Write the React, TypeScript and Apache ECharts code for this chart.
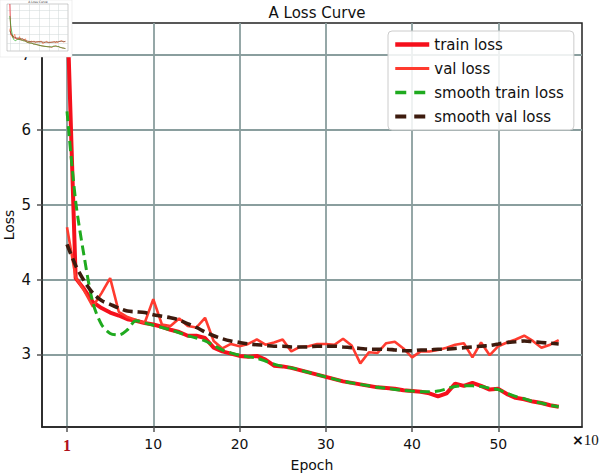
import React, { useEffect, useRef } from "react";
import * as echarts from "echarts";

const epochs = [0,1,2,3,4,5,6,7,8,9,10,11,12,13,14,15,16,17,18,19,20,21,22,23,24,25,26,27,28,29,30,31,32,33,34,35,36,37,38,39,40,41,42,43,44,45,46,47,48,49,50,51,52,53,54,55,56,57];

const trainLoss = [7.7,4.02,3.87,3.7,3.62,3.56,3.52,3.47,3.45,3.42,3.4,3.37,3.33,3.3,3.25,3.25,3.22,3.09,3.04,3.01,2.98,2.97,2.98,2.93,2.85,2.84,2.82,2.79,2.76,2.73,2.7,2.67,2.64,2.62,2.6,2.58,2.56,2.55,2.54,2.52,2.51,2.5,2.48,2.44,2.48,2.61,2.58,2.62,2.58,2.53,2.54,2.47,2.42,2.4,2.37,2.35,2.32,2.3];

const valLoss = [4.7,4.03,3.85,3.64,3.82,4.02,3.57,3.5,3.46,3.42,3.74,3.4,3.38,3.48,3.38,3.36,3.49,3.18,3.08,3.14,3.11,3.14,3.2,3.13,3.16,3.2,3.04,3.1,3.11,3.14,3.14,3.13,3.21,3.12,2.88,3.03,3.02,3.15,3.17,3.08,2.96,3.04,3.04,3.06,3.09,3.13,3.15,2.96,3.16,2.99,3.11,3.16,3.2,3.25,3.18,3.09,3.13,3.19];

const smoothTrain = [6.25,5.05,4.3,3.69,3.4,3.28,3.26,3.33,3.45,3.42,3.39,3.36,3.33,3.29,3.25,3.22,3.18,3.12,3.06,3.02,2.99,2.97,2.95,2.91,2.87,2.84,2.82,2.79,2.76,2.73,2.7,2.67,2.64,2.62,2.6,2.58,2.56,2.55,2.53,2.52,2.51,2.5,2.5,2.51,2.54,2.57,2.58,2.58,2.57,2.55,2.53,2.48,2.44,2.41,2.37,2.35,2.32,2.3];

const smoothVal = [4.47,4.19,3.98,3.82,3.72,3.67,3.62,3.58,3.57,3.56,3.53,3.51,3.49,3.46,3.41,3.36,3.3,3.25,3.21,3.18,3.16,3.14,3.13,3.12,3.11,3.11,3.1,3.1,3.1,3.11,3.11,3.11,3.1,3.09,3.08,3.07,3.07,3.07,3.06,3.05,3.05,3.06,3.06,3.07,3.07,3.08,3.09,3.1,3.11,3.12,3.14,3.16,3.17,3.18,3.17,3.16,3.15,3.14];

const xTicks = [0, 10, 20, 30, 40, 50];
const yTicks = [3, 4, 5, 6, 7];
const seriesNames = ["train loss", "val loss", "smooth train loss", "smooth val loss"];

const FONT = "DejaVu Sans";

function pairs(ys: number[]) {
  return ys.map((y, i) => [epochs[i], y]);
}

export default function App() {
  const ref = useRef<HTMLDivElement>(null);
  useEffect(() => {
    if (!ref.current) return;
    const chart = echarts.init(ref.current, undefined, { renderer: "svg" });
    const colors = ["#f5101c", "#ff3b2f", "#1faa1f", "#3d1b0e"];
    const widths = [4, 2.6, 3, 3.6];
    const mainSeries = [
      { name: seriesNames[0], data: pairs(trainLoss), lineStyle: { color: colors[0], width: widths[0] }, z: 3 },
      { name: seriesNames[1], data: pairs(valLoss), lineStyle: { color: colors[1], width: widths[1] }, z: 4 },
      { name: seriesNames[2], data: pairs(smoothTrain), lineStyle: { color: colors[2], width: widths[2], type: [10, 5] }, z: 5, smooth: 0.3 },
      { name: seriesNames[3], data: pairs(smoothVal), lineStyle: { color: colors[3], width: widths[3], type: [10, 5] }, z: 6, smooth: 0.3 },
    ].map((s, i) => ({
      type: "line",
      xAxisIndex: 0,
      yAxisIndex: 0,
      symbol: "none",
      showSymbol: false,
      itemStyle: { color: colors[i] },
      ...s,
    }));
    const miniSeries = [trainLoss, valLoss, smoothTrain, smoothVal].map((arr, i) => ({
      type: "line",
      name: "mini " + seriesNames[i],
      xAxisIndex: 1,
      yAxisIndex: 1,
      symbol: "none",
      silent: true,
      z: 70 + i,
      data: pairs(arr),
      lineStyle: { color: ["#f5101c", "#ff6a3a", "#1faa1f", "#6b3a1e"][i], width: 0.7 },
    }));

    chart.setOption({
      animation: false,
      backgroundColor: "#ffffff",
      title: {
        text: "A Loss Curve",
        left: 312,
        top: 0,
        textAlign: "center",
        textStyle: { fontFamily: FONT, fontSize: 15, fontWeight: "normal", color: "#111" },
      },
      legend: {
        data: seriesNames.map((n, i) => ({
          name: n,
          lineStyle: { width: widths[i] + 0.5, type: i >= 2 ? [11, 8] : "solid", color: colors[i] },
        })),
        orient: "vertical",
        left: 388,
        top: 31,
        padding: [6, 10, 6, 5],
        itemWidth: 34,
        itemHeight: 14,
        itemGap: 9,
        itemStyle: { opacity: 0 },
        borderColor: "#cccccc",
        borderWidth: 1,
        borderRadius: 4,
        backgroundColor: "rgba(255,255,255,0.85)",
        textStyle: { fontFamily: FONT, fontSize: 15, color: "#111" },
        z: 20,
      },
      grid: [
        { left: 42, right: 18, top: 23, bottom: 48, show: true, borderColor: "#222", borderWidth: 1.5, backgroundColor: "#fff", containLabel: false, outerBoundsMode: "none" },
        { left: 7, top: 4, width: 61, height: 47, show: true, borderColor: "#999", borderWidth: 0.5, backgroundColor: "#fff", z: 60, containLabel: false, outerBoundsMode: "none" },
      ],
      xAxis: [
        {
          type: "value",
          gridIndex: 0,
          min: -2.9,
          max: 59.7,
          name: "Epoch",
          nameLocation: "middle",
          nameGap: 31,
          nameTextStyle: { fontFamily: FONT, fontSize: 14, color: "#111" },
          axisLine: { show: true, onZero: false, lineStyle: { color: "#222", width: 1.5 } },
          axisTick: { show: true, customValues: xTicks, length: 5, lineStyle: { color: "#555", width: 1.5 } },
          axisLabel: {
            customValues: xTicks,
            fontFamily: FONT,
            fontSize: 14,
            color: "#111",
            margin: 10,
            formatter: (v: number) => (v === 0 ? "{r|1}" : String(v)),
            rich: { r: { color: "#b0101a", fontFamily: "Liberation Serif", fontSize: 16, fontWeight: "bold" } },
          },
          splitLine: { show: true, lineStyle: { color: "#8a9e9e", width: 1.8 } },
        },
        {
          type: "value",
          gridIndex: 1,
          min: -2.9,
          max: 59.7,
          z: 65,
          axisLine: { show: false, onZero: false },
          axisTick: { show: false, customValues: xTicks },
          axisLabel: { show: false, customValues: xTicks },
          splitLine: { show: true, lineStyle: { color: "#cfd6d6", width: 0.5 } },
        },
      ],
      yAxis: [
        {
          type: "value",
          gridIndex: 0,
          min: 2.03,
          max: 7.43,
          name: "Loss",
          nameLocation: "middle",
          nameGap: 26,
          nameMoveOverlap: false,
          nameTextStyle: { fontFamily: FONT, fontSize: 14, color: "#111" },
          axisLine: { show: true, onZero: false, lineStyle: { color: "#222", width: 1.5 } },
          axisTick: { show: true, customValues: yTicks, length: 5, lineStyle: { color: "#555", width: 1.5 } },
          axisLabel: { customValues: yTicks, fontFamily: FONT, fontSize: 15, color: "#111", margin: 11 },
          splitLine: { show: true, lineStyle: { color: "#8a9e9e", width: 1.8 } },
        },
        {
          type: "value",
          gridIndex: 1,
          min: 2.0,
          max: 7.7,
          z: 65,
          axisLine: { show: false, onZero: false },
          axisTick: { show: false, customValues: yTicks },
          axisLabel: { show: false, customValues: yTicks },
          splitLine: { show: true, lineStyle: { color: "#cfd6d6", width: 0.5 } },
        },
      ],
      graphic: [
        {
          type: "rect",
          shape: { x: 0, y: 0, width: 72, height: 57 },
          style: { fill: "#ffffff", stroke: "#dddddd", lineWidth: 0.5 },
          z: 50,
          silent: true,
        },
        {
          type: "text",
          x: 38,
          y: 0,
          z: 80,
          style: { text: "A Loss Curve", fontSize: 3, fontFamily: FONT, fill: "#333", align: "center" },
        },
        {
          type: "text",
          x: 572,
          y: 432,
          style: {
            text: "{a|×}{b|10}",
            rich: {
              a: { fontFamily: FONT, fontSize: 14, fontWeight: "bold", fill: "#111" },
              b: { fontFamily: "Liberation Serif", fontSize: 15, fill: "#111" },
            },
          },
        },
      ],
      series: [...mainSeries, ...miniSeries],
    });
    return () => chart.dispose();
  }, []);
  return <div ref={ref} style={{ position: "fixed", left: 0, top: 0, width: 600, height: 475 }} />;
}
